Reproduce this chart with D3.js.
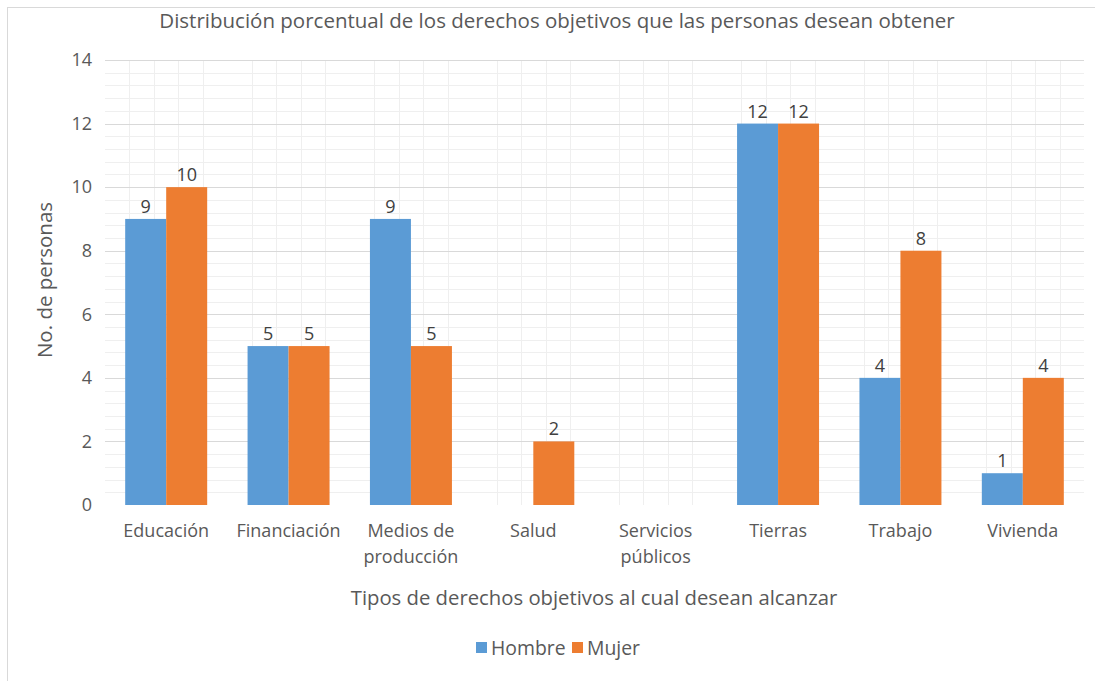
<!DOCTYPE html>
<html><head><meta charset="utf-8">
<script src="https://cdn.jsdelivr.net/npm/d3@7"></script>
<style>body{margin:0;background:#fff}svg text{font-family:"Open Sans",sans-serif}</style>
</head><body><svg id="c" width="1095" height="681"></svg>
<script>
const categories = [["Educación"],["Financiación"],["Medios de","producción"],["Salud"],["Servicios","públicos"],["Tierras"],["Trabajo"],["Vivienda"]];
const hombre = [9,5,9,null,null,12,4,1];
const mujer = [10,5,5,2,null,12,8,4];
const seriesNames = ["Hombre","Mujer"];
const colors = ["#5B9BD5","#ED7D31"];
const yTicks = [0,2,4,6,8,10,12,14];

const svg = d3.select("#c");
const m = {l:105, r:1084, t:60, b:505};
svg.append("rect").attr("x",7.5).attr("y",7.5).attr("width",1200).attr("height",800)
  .attr("fill","#fff").attr("stroke","#d9d9d9");

const cats = categories.map(d=>d.join(" "));
const x = d3.scaleBand().domain(cats).range([m.l,m.r]).paddingInner(0.33).paddingOuter(0.165);
const xOuter = d3.scaleBand().domain(cats).range([m.l,m.r]);
const xs = d3.scaleBand().domain(seriesNames).range([0,x.bandwidth()]);
const y = d3.scaleLinear().domain([0,14]).range([m.b,m.t]);

// minor vertical grid
const g = svg.append("g");
cats.forEach(c=>{
  for(let i=1;i<5;i++){
    const xx = Math.round(xOuter(c)+xOuter.bandwidth()*i/5)+0.5;
    g.append("line").attr("x1",xx).attr("x2",xx).attr("y1",m.t).attr("y2",m.b).attr("stroke","#efefef");
  }
});
// minor horizontal grid
d3.range(0,14.01,0.4).forEach(v=>{
  if(Math.abs(v/2-Math.round(v/2))<1e-6) return;
  const yy = Math.round(y(v))+0.5;
  g.append("line").attr("x1",m.l).attr("x2",m.r).attr("y1",yy).attr("y2",yy).attr("stroke","#efefef");
});
// major horizontal grid
yTicks.filter(v=>v>0).forEach(v=>{
  const yy = Math.round(y(v))+0.5;
  g.append("line").attr("x1",m.l).attr("x2",m.r).attr("y1",yy).attr("y2",yy).attr("stroke","#d9d9d9");
});

// y axis
const ya = svg.append("g").attr("transform",`translate(${m.l},0)`)
  .call(d3.axisLeft(y).tickValues(yTicks).tickSize(0).tickPadding(13));
ya.select(".domain").remove();
ya.selectAll("text").attr("fill","#595959").style("font-size","18px").style("font-family","Open Sans");

// bars
const data = [hombre,mujer];
data.forEach((s,si)=>{
  s.forEach((v,i)=>{
    if(v==null) return;
    const bx = x(cats[i])+xs(seriesNames[si]);
    svg.append("rect").attr("x",bx).attr("y",y(v)).attr("width",xs.bandwidth()).attr("height",y(0)-y(v)).attr("fill",colors[si]);
    svg.append("text").attr("x",bx+xs.bandwidth()/2).attr("y",y(v)-6).attr("text-anchor","middle")
      .attr("fill","#404040").style("font-size","18px").text(v);
  });
});

// category labels
categories.forEach((lines,i)=>{
  const cx = x(cats[i])+x.bandwidth()/2;
  lines.forEach((t,li)=>{
    svg.append("text").attr("x",cx).attr("y",537+li*26).attr("text-anchor","middle")
      .attr("fill","#595959").style("font-size","18px").text(t);
  });
});

// titles
svg.append("text").attr("x",557).attr("y",28).attr("text-anchor","middle").attr("fill","#595959")
  .style("font-size","20.5px").text("Distribución porcentual de los derechos objetivos que las personas desean obtener");
svg.append("text").attr("x",594).attr("y",605).attr("text-anchor","middle").attr("fill","#595959")
  .style("font-size","20.3px").text("Tipos de derechos objetivos al cual desean alcanzar");
svg.append("text").attr("transform","translate(52,280) rotate(-90)").attr("text-anchor","middle").attr("fill","#595959")
  .style("font-size","20.5px").text("No. de personas");

// legend
const leg = [{n:"Hombre",x:476},{n:"Mujer",x:572}];
leg.forEach((d,i)=>{
  svg.append("rect").attr("x",d.x).attr("y",642).attr("width",11).attr("height",11).attr("fill",colors[i]);
  svg.append("text").attr("x",d.x+15).attr("y",655).attr("fill","#595959").style("font-size","19.4px").text(d.n);
});
</script></body></html>
